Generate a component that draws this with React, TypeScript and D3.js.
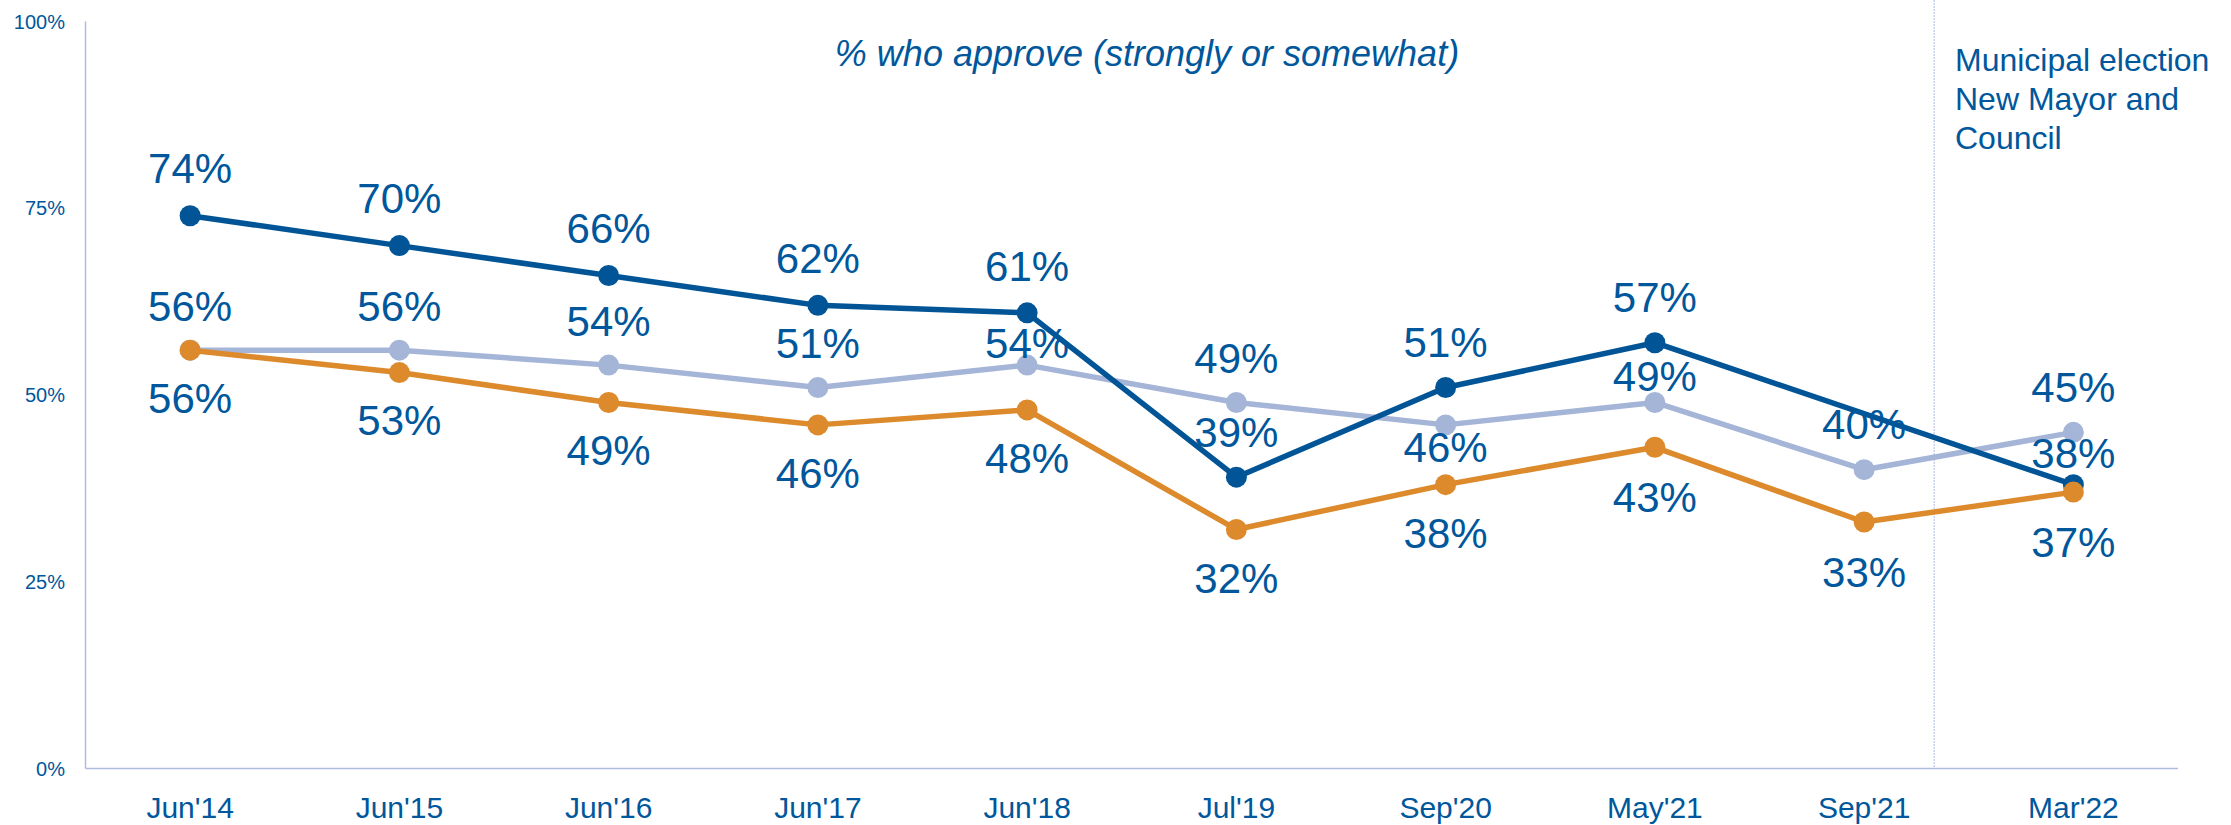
import React from "react";
import * as d3 from "d3";

const categories = ["Jun'14", "Jun'15", "Jun'16", "Jun'17", "Jun'18", "Jul'19", "Sep'20", "May'21", "Sep'21", "Mar'22"];
const darkSeries: (number | null)[] = [74, 70, 66, 62, 61, 39, 51, 57, null, 38];
const lightSeries: (number | null)[] = [56, 56, 54, 51, 54, 49, 46, 49, 40, 45];
const orangeSeries: (number | null)[] = [56, 53, 49, 46, 48, 32, 38, 43, 33, 37];
const yTicks = [0, 25, 50, 75, 100];
const yTickLabels = ["0%", "25%", "50%", "75%", "100%"];
const titleText = "% who approve (strongly or somewhat)";
const noteLines = ["Municipal election", "New Mayor and", "Council"];

// label placement nudges (style, px) per series
const darkLabelDy = [-47, -47, -47, -47, -47, -45, -45, -45, 0, -31];
const lightLabelDy = [-44, -44, -44, -44, -22, -44, 22, -26, -45, -45];
const orangeLabelDy = [48, 48, 48, 48, 48, 49, 49, 50, 50, 50];

const W = 2231;
const H = 825;
const TEXT = "#00579B";
const FONT = "Arial, 'Liberation Sans', Helvetica, sans-serif";

export default function App() {
  const x = d3.scalePoint<string>().domain(categories).range([85.5, 2178]).padding(0.5);
  const y = d3.scaleLinear().domain([0, 100]).range([768.5, 21.5]);
  const step = x.step();
  const dividerX = (x("Sep'21") as number) + step * 0.335;

  const series = [
    { key: "light", values: lightSeries, color: "#A5B5D7", dy: lightLabelDy },
    { key: "dark", values: darkSeries, color: "#015596", dy: darkLabelDy },
    { key: "orange", values: orangeSeries, color: "#DC8A2B", dy: orangeLabelDy },
  ];

  const lineGen = d3
    .line<{ c: string; v: number }>()
    .x((d) => x(d.c) as number)
    .y((d) => y(d.v));

  return (
    <svg width={W} height={H} style={{ position: "absolute", left: 0, top: 0, background: "#fff" }} fontFamily={FONT}>
      <line x1={dividerX} x2={dividerX} y1={0} y2={768.5} stroke="#C8D1EA" strokeWidth={1.5} strokeDasharray="2 1" />
      <line x1={85.5} x2={85.5} y1={y(100)} y2={y(0)} stroke="#AEBCDD" strokeWidth={1.5} />
      <line x1={85.5} x2={2178} y1={y(0)} y2={y(0)} stroke="#AEBCDD" strokeWidth={1.5} />
      {yTicks.map((t, i) => (
        <text key={t} x={65} y={y(t)} dy="0.35em" textAnchor="end" fontSize={20} fill={TEXT}>
          {yTickLabels[i]}
        </text>
      ))}
      {categories.map((c) => (
        <text key={c} x={x(c) as number} y={818} textAnchor="middle" fontSize={30} fill={TEXT}>
          {c}
        </text>
      ))}
      <text x={1147} y={66} textAnchor="middle" fontSize={36} fontStyle="italic" fill={TEXT}>
        {titleText}
      </text>
      {noteLines.map((l, i) => (
        <text key={l} x={1955} y={71 + i * 39} fontSize={32} fill={TEXT}>
          {l}
        </text>
      ))}
      {series.map((s) => {
        const pts = s.values
          .map((v, i) => ({ c: categories[i], v }))
          .filter((d) => d.v !== null) as { c: string; v: number }[];
        return (
          <g key={s.key}>
            <path d={lineGen(pts) || ""} fill="none" stroke={s.color} strokeWidth={5.5} strokeLinejoin="round" />
            {pts.map((d) => (
              <circle key={d.c} cx={x(d.c) as number} cy={y(d.v)} r={10.5} fill={s.color} />
            ))}
          </g>
        );
      })}
      {series.map((s) => (
        <g key={s.key + "-labels"}>
          {s.values.map((v, i) =>
            v === null ? null : (
              <text
                key={i}
                x={x(categories[i]) as number}
                y={y(v) + s.dy[i]}
                dy="0.35em"
                textAnchor="middle"
                fontSize={42}
                fill={TEXT}
              >
                {v}%
              </text>
            )
          )}
        </g>
      ))}
    </svg>
  );
}
